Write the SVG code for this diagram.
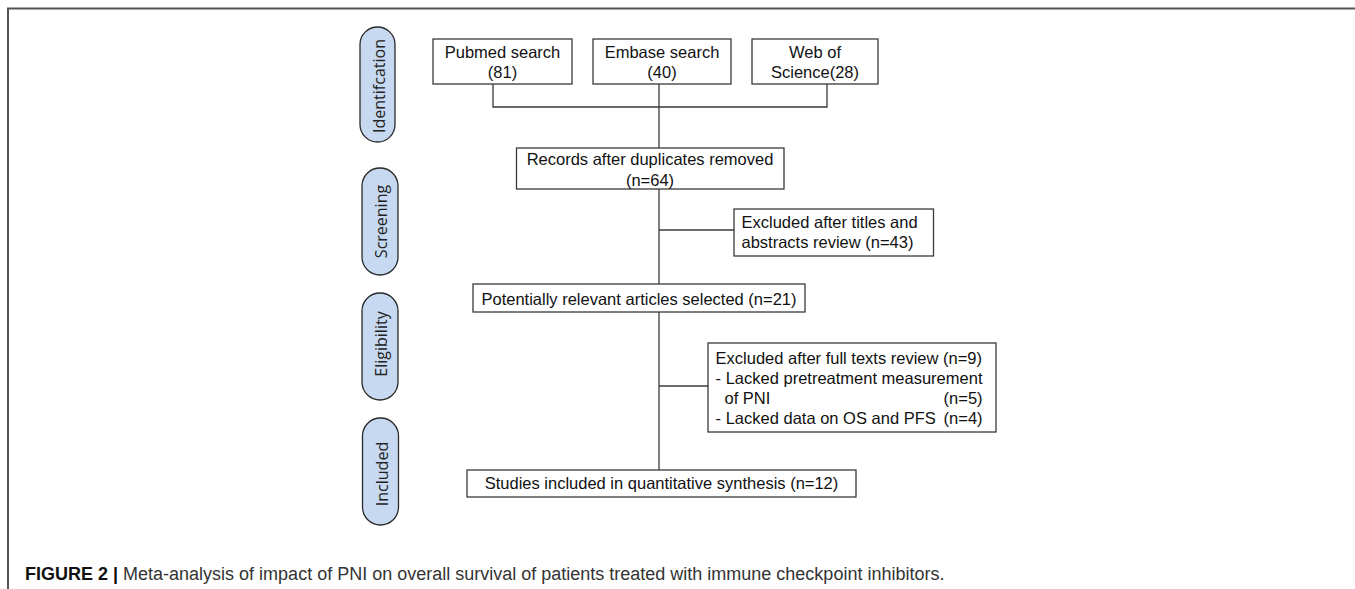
<svg xmlns="http://www.w3.org/2000/svg" width="1355" height="589" viewBox="0 0 1355 589">
<style>
.box{fill:#fff;stroke:#3a3a3a;stroke-width:1.3}
.pill{fill:#c6d9f1;stroke:#2a2a2a;stroke-width:1.3}
.t{font-family:"Liberation Sans",Arial,sans-serif;font-size:16.5px;fill:#111}
.c{text-anchor:middle}
.p{font-family:"Open Sans","DejaVu Sans",sans-serif;font-size:16px;fill:#222;text-anchor:middle}
.ln{fill:none;stroke:#3a3a3a;stroke-width:1.3}
.cap{font-family:"Liberation Sans",Arial,sans-serif;font-size:18px;fill:#333}
</style>
<rect width="1355" height="589" fill="#fff"/>
<g id="frame">
<path d="M8,589 V8.5 H1355" fill="none" stroke="#555" stroke-width="2"/>
</g>
<g id="phase-identification">
<rect class="pill" x="360" y="27" width="35" height="115" rx="17.5"/>
<text class="p" transform="translate(385,86) rotate(-90)">Identifcation</text>
</g>
<g id="phase-screening">
<rect class="pill" x="362" y="168" width="36" height="107" rx="18"/>
<text class="p" transform="translate(387,221.5) rotate(-90)">Screening</text>
</g>
<g id="phase-eligibility">
<rect class="pill" x="362" y="293" width="36" height="107" rx="18"/>
<text class="p" transform="translate(387,344) rotate(-90)">Eligibility</text>
</g>
<g id="phase-included">
<rect class="pill" x="362.5" y="418" width="36" height="107" rx="18"/>
<text class="p" transform="translate(387.5,474) rotate(-90)">Included</text>
</g>
<g id="connectors">
<path class="ln" d="M493,84 V107 H827 V84"/>
<path class="ln" d="M659,84 V470"/>
<path class="ln" d="M659,230 H734"/>
<path class="ln" d="M659,386 H708"/>
</g>
<g id="pubmed">
<rect class="box" x="433" y="39" width="139" height="45"/>
<text class="t c" x="502.5" y="58">Pubmed search</text>
<text class="t c" x="502.5" y="78">(81)</text>
</g>
<g id="embase">
<rect class="box" x="593" y="39" width="138" height="45"/>
<text class="t c" x="662" y="58">Embase search</text>
<text class="t c" x="662" y="78">(40)</text>
</g>
<g id="wos">
<rect class="box" x="752" y="39" width="126" height="45"/>
<text class="t c" x="815" y="58">Web of</text>
<text class="t c" x="815" y="78">Science(28)</text>
</g>
<g id="records">
<rect class="box" x="516.5" y="148" width="267.5" height="41"/>
<text class="t c" x="650" y="165">Records after duplicates removed</text>
<text class="t c" x="650" y="186">(n=64)</text>
</g>
<g id="excluded-titles">
<rect class="box" x="734" y="209" width="199.5" height="47"/>
<text class="t" x="741.5" y="228">Excluded after titles and</text>
<text class="t" x="741.5" y="248">abstracts review (n=43)</text>
</g>
<g id="potentially">
<rect class="box" x="473" y="284" width="332" height="28"/>
<text class="t c" x="639" y="305">Potentially relevant articles selected (n=21)</text>
</g>
<g id="excluded-full">
<rect class="box" x="708" y="343" width="288" height="89"/>
<text class="t" x="715.6" y="364">Excluded after full texts review (n=9)</text>
<text class="t" x="715.6" y="384">- Lacked pretreatment measurement</text>
<text class="t" x="724.5" y="404">of PNI</text>
<text class="t" x="982.6" y="404" text-anchor="end">(n=5)</text>
<text class="t" x="715.6" y="424">- Lacked data on OS and PFS</text>
<text class="t" x="982.6" y="424" text-anchor="end">(n=4)</text>
</g>
<g id="studies">
<rect class="box" x="467" y="470" width="389" height="27"/>
<text class="t c" x="661.5" y="489">Studies included in quantitative synthesis (n=12)</text>
</g>
<g id="caption">
<text class="cap" x="25" y="580"><tspan font-weight="bold" fill="#111">FIGURE 2 | </tspan>Meta-analysis of impact of PNI on overall survival of patients treated with immune checkpoint inhibitors.</text>
</g>
</svg>
